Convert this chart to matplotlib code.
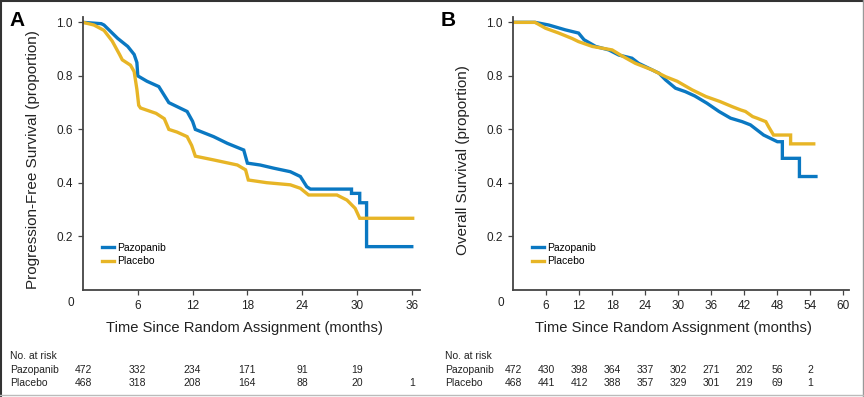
import matplotlib
matplotlib.use('Agg')
import matplotlib.pyplot as plt
from matplotlib.lines import Line2D
import matplotlib.transforms as mtransforms

plt.rcParams['font.family'] = ['Liberation Sans', 'DejaVu Sans']

BLUE = '#0a78c2'
GOLD = '#e7b526'
GREY = '#444444'

# panel A: progression-free survival, vertices of the drawn curves
pfs_paz_t = [0, 2.0, 2.3, 2.9, 3.8, 4.9, 5.6, 5.9, 6.0, 7.0, 8.3, 9.4, 11.4, 12.0, 12.3, 14.3,
             15.8, 17.6, 18.0, 19.4, 20.9, 22.7, 23.8, 24.5, 24.9, 29.4, 29.4, 30.3, 30.3,
             31.05, 31.05, 36.0]
pfs_paz_s = [1.0, 0.995, 0.99, 0.97, 0.94, 0.91, 0.88, 0.85, 0.80, 0.78, 0.76, 0.70, 0.667,
             0.63, 0.60, 0.573, 0.548, 0.523, 0.474, 0.467, 0.455, 0.442, 0.424, 0.386, 0.377,
             0.377, 0.361, 0.361, 0.326, 0.326, 0.162, 0.162]
pfs_pla_t = [0, 1.2, 2.3, 3.2, 4.0, 4.3, 5.2, 5.6, 5.9, 6.1, 6.3, 8.0, 8.9, 9.4, 10.3, 11.4,
             11.9, 12.3, 14.3, 16.9, 17.8, 18.1, 20.1, 22.7, 23.8, 24.7, 27.8, 28.9, 29.8,
             30.3, 36.1]
pfs_pla_s = [1.0, 0.99, 0.97, 0.93, 0.88, 0.86, 0.84, 0.816, 0.75, 0.69, 0.68, 0.66, 0.64,
             0.60, 0.59, 0.573, 0.54, 0.50, 0.486, 0.467, 0.449, 0.411, 0.401, 0.393, 0.38,
             0.355, 0.355, 0.336, 0.305, 0.268, 0.268]

# panel B: overall survival
os_paz_t = [0, 4.0, 6.5, 9.5, 11.9, 12.9, 15.0, 17.4, 19.2, 21.6, 22.8, 26.5, 27.7, 29.5, 31.3,
            33.0, 35.2, 37.4, 39.5, 41.6, 43.1, 45.5, 47.3, 48.0, 48.9, 48.9, 52.0, 52.0, 55.0]
os_paz_s = [1.0, 1.0, 0.99, 0.972, 0.96, 0.935, 0.91, 0.897, 0.878, 0.866, 0.847, 0.81, 0.785,
            0.754, 0.741, 0.725, 0.698, 0.667, 0.642, 0.629, 0.617, 0.579, 0.561, 0.554, 0.554,
            0.492, 0.492, 0.424, 0.424]
os_pla_t = [0, 4.0, 5.9, 8.3, 10.7, 11.9, 14.4, 18.0, 19.5, 22.2, 25.3, 27.7, 29.8, 32.5, 35.0,
            37.6, 39.8, 41.3, 42.2, 43.5, 44.3, 45.9, 46.4, 47.3, 50.4, 50.4, 54.6]
os_pla_s = [1.0, 1.0, 0.978, 0.96, 0.94, 0.928, 0.91, 0.897, 0.878, 0.847, 0.822, 0.797, 0.78,
            0.748, 0.723, 0.704, 0.685, 0.673, 0.667, 0.648, 0.642, 0.629, 0.61, 0.579, 0.579,
            0.546, 0.546]

# numbers at risk
risk_a_t = [0, 6, 12, 18, 24, 30, 36]
risk_a_paz = ['472', '332', '234', '171', '91', '19', '']
risk_a_pla = ['468', '318', '208', '164', '88', '20', '1']
risk_b_t = [0, 6, 12, 18, 24, 30, 36, 42, 48, 54]
risk_b_paz = ['472', '430', '398', '364', '337', '302', '271', '202', '56', '2']
risk_b_pla = ['468', '441', '412', '388', '357', '329', '301', '219', '69', '1']

xticks_a = [6, 12, 18, 24, 30, 36]
xticks_b = [6, 12, 18, 24, 30, 36, 42, 48, 54, 60]
yticks = [0.2, 0.4, 0.6, 0.8, 1.0]

W, H = 864, 397
fig = plt.figure(figsize=(W / 100, H / 100), dpi=100)


def px(x, y):
    return x / W, 1 - y / H


def panel(left, right, xmax, xticks, series, ylabel, letter, letter_x, zero_x,
          risk_t, risk_paz, risk_pla, risk_x0):
    x0, y0 = px(left, 290)
    ax = fig.add_axes([x0, y0, (right - left) / W, 273 / H])
    for t, s, c, lab in series:
        ax.plot(t, s, color=c, lw=2.4, label=lab, solid_joinstyle='miter')
    ax.set_xlim(0, xmax)
    ax.set_ylim(0, 1.02)
    ax.set_xticks(xticks)
    ax.set_yticks(yticks)
    ax.set_yticklabels(['%.1f' % v for v in yticks])
    for side in ['top', 'right']:
        ax.spines[side].set_visible(False)
    for side in ['left', 'bottom']:
        ax.spines[side].set_color(GREY)
        ax.spines[side].set_linewidth(1.3)
    ax.tick_params(direction='out', length=3.5, width=0.9, color=GREY,
                   labelsize=8.5, labelcolor='#222222', pad=4)
    ax.set_xlabel('Time Since Random Assignment (months)', fontsize=10.6, color='#222222')
    ax.xaxis.set_label_coords(0.478, -0.115)
    ax.set_ylabel(ylabel, fontsize=11, color='#222222')
    ax.yaxis.set_label_coords(-0.128, 0.476)
    leg = ax.legend(loc='lower left', bbox_to_anchor=(0.045, 0.072), frameon=False,
                    fontsize=7.5, handlelength=1.1, handletextpad=0.3, labelspacing=0.35,
                    borderaxespad=0)
    for h in leg.get_lines():
        h.set_linewidth(2.4)
    fig.text(*px(letter_x, 20), letter, fontsize=15, fontweight='bold', ha='center', va='center')
    fig.text(*px(zero_x, 303), '0', fontsize=8.5, ha='center', va='center', color='#222222')

    trans = mtransforms.blended_transform_factory(ax.transData, fig.transFigure)
    fig.text(*px(risk_x0, 356), 'No. at risk', fontsize=7.5, va='center', color='#222222')
    fig.text(*px(risk_x0, 370), 'Pazopanib', fontsize=7.5, va='center', color='#222222')
    fig.text(*px(risk_x0, 383), 'Placebo', fontsize=7.5, va='center', color='#222222')
    for t, a, b in zip(risk_t, risk_paz, risk_pla):
        ax.text(t, 1 - 370 / H, a, transform=trans, fontsize=7.5, ha='center', va='center',
                color='#222222')
        ax.text(t, 1 - 383 / H, b, transform=trans, fontsize=7.5, ha='center', va='center',
                color='#222222')
    return ax


panel(83, 420, 36.9, xticks_a,
      [(pfs_paz_t, pfs_paz_s, BLUE, 'Pazopanib'), (pfs_pla_t, pfs_pla_s, GOLD, 'Placebo')],
      'Progression-Free Survival (proportion)', 'A', 17, 71,
      risk_a_t, risk_a_paz, risk_a_pla, 10)
panel(513, 849, 61.0, xticks_b,
      [(os_paz_t, os_paz_s, BLUE, 'Pazopanib'), (os_pla_t, os_pla_s, GOLD, 'Placebo')],
      'Overall Survival (proportion)', 'B', 448, 501,
      risk_b_t, risk_b_paz, risk_b_pla, 445)

# frame around the whole figure
fig.add_artist(Line2D([0, 1], [1 - 1 / H, 1 - 1 / H], transform=fig.transFigure, color='#333333', lw=1.5))
fig.add_artist(Line2D([1 / W, 1 / W], [0, 1], transform=fig.transFigure, color='#333333', lw=1.5))
fig.add_artist(Line2D([1 - 1.5 / W, 1 - 1.5 / W], [0, 1], transform=fig.transFigure, color='#999999', lw=1))
fig.add_artist(Line2D([0, 1], [2.5 / H, 2.5 / H], transform=fig.transFigure, color='#bbbbbb', lw=1))

fig.savefig('out.png', dpi=100)
